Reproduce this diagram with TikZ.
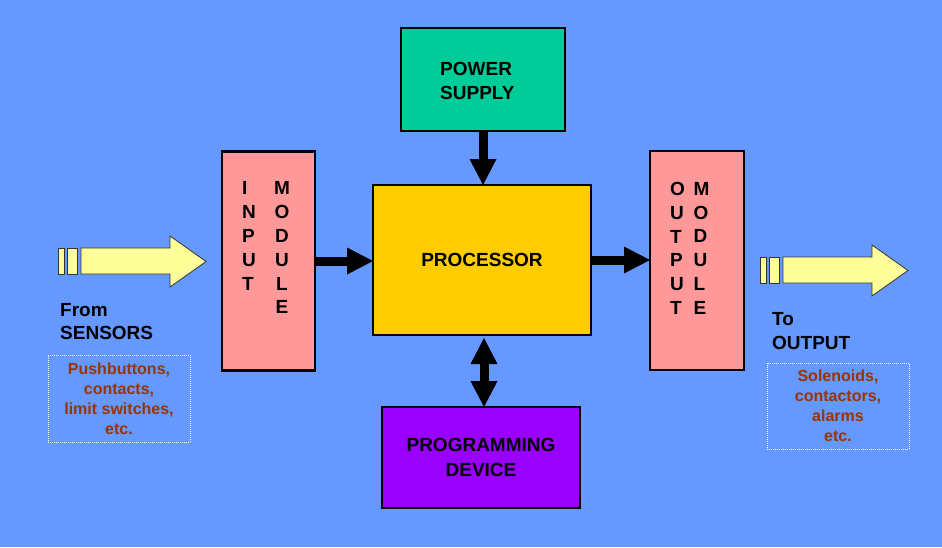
\documentclass[tikz,border=0pt]{standalone}
\usepackage{fontspec}
\setmainfont{Liberation Sans}
\usetikzlibrary{arrows.meta}

\definecolor{bgblue}{HTML}{6699FF}
\definecolor{psu}{HTML}{00CC99}
\definecolor{iomod}{HTML}{FF9999}
\definecolor{cpu}{HTML}{FFCC00}
\definecolor{prog}{HTML}{9900FF}
\definecolor{pale}{HTML}{FFFF99}
\definecolor{rust}{HTML}{993300}

\begin{document}
\begin{tikzpicture}[x=1pt,y=-1pt,
  unit/.style={draw=black,line width=2.5pt,inner sep=0pt,outer sep=0pt},
  boxtext/.style={inner sep=0pt,font=\bfseries\fontsize{19}{23.8}\selectfont},
  devlist/.style={draw=white,line width=1pt,dash pattern=on 1pt off 1pt,
    minimum width=142pt,minimum height=87pt,inner sep=0pt,text=rust,
    align=center,font=\bfseries\fontsize{16}{20}\selectfont},
  bigarrow/.style={line width=9pt,-{Triangle[width=27pt,length=26pt,line width=0pt]}}]
\fill[bgblue] (0,0) rectangle (942,547);
\useasboundingbox (0,0) rectangle (942,547);

% the blocks
\node[unit,fill=psu,minimum width=164pt,minimum height=103pt] (power) at (483,79.5) {};
\node[boxtext,align=left,anchor=north west] (powertext) at (440,62) {POWER\\SUPPLY};
\node[unit,fill=iomod,minimum width=93pt,minimum height=219pt] (inmod) at (268.5,261) {};
\node[unit,fill=cpu,minimum width=218pt,minimum height=150pt,boxtext] (proc) at (482,260) {PROCESSOR};
\node[unit,fill=iomod,minimum width=94pt,minimum height=219pt] (outmod) at (697,260.5) {};
\node[unit,fill=prog,minimum width=198pt,minimum height=101pt,boxtext,align=center,
  font=\bfseries\fontsize{19}{24.5}\selectfont] (progdev) at (481,457.5) {PROGRAMMING\\DEVICE};

% vertical letters in the modules
\node[boxtext,align=left,anchor=north west] (inmodA) at (242,181.7) {I\\N\\P\\U\\T};
\node[boxtext,align=center,anchor=north] (inmodB) at (282,181.7) {M\\O\\D\\U\\L\\E};
\node[boxtext,align=left,anchor=north west] (outmodA) at (670,182) {O\\U\\T\\P\\U\\T};
\node[boxtext,align=left,anchor=north west] (outmodB) at (693.5,182) {M\\O\\D\\U\\L\\E};

% black arrows between the blocks
\draw[bigarrow] (power.south) -- (power.south |- proc.north);
\draw[bigarrow] (inmod.east) -- (inmod.east -| proc.west);
\draw[bigarrow] (proc.east) -- (proc.east -| outmod.west);
\draw[line width=9pt,{Triangle[width=27pt,length=26pt,line width=0pt]}-{Triangle[width=27pt,length=26pt,line width=0pt]}]
  ([xshift=2pt,yshift=-3pt]proc.south) -- ([xshift=2pt]proc.south |- progdev.north);

% field side arrows
\foreach \dx/\dy in {0/0,702/9}
{
  \begin{scope}[shift={(\dx,\dy)},fill=pale,draw=black!80,line width=0.8pt]
    \filldraw (58,248) rectangle (64,274);
    \filldraw (67,248) rectangle (77,274);
    \filldraw (81,248) -- (170,248) -- (170,236) -- (206,261.5) -- (170,287)
      -- (170,274) -- (81,274) -- cycle;
  \end{scope}
}

\node[boxtext,align=left,anchor=north west,font=\bfseries\fontsize{19}{23.4}\selectfont] (fromtext) at (60,303) {From\\SENSORS};
\node[boxtext,align=left,anchor=north west,font=\bfseries\fontsize{19}{24}\selectfont] (totext) at (772,312) {To\\OUTPUT};

\node[devlist] (inlist) at (119,398.5) {Pushbuttons,\\contacts,\\limit switches,\\etc.};
\node[devlist,minimum height=86pt] (outlist) at (838,406) {Solenoids,\\contactors,\\alarms\\etc.};
\end{tikzpicture}
\end{document}
